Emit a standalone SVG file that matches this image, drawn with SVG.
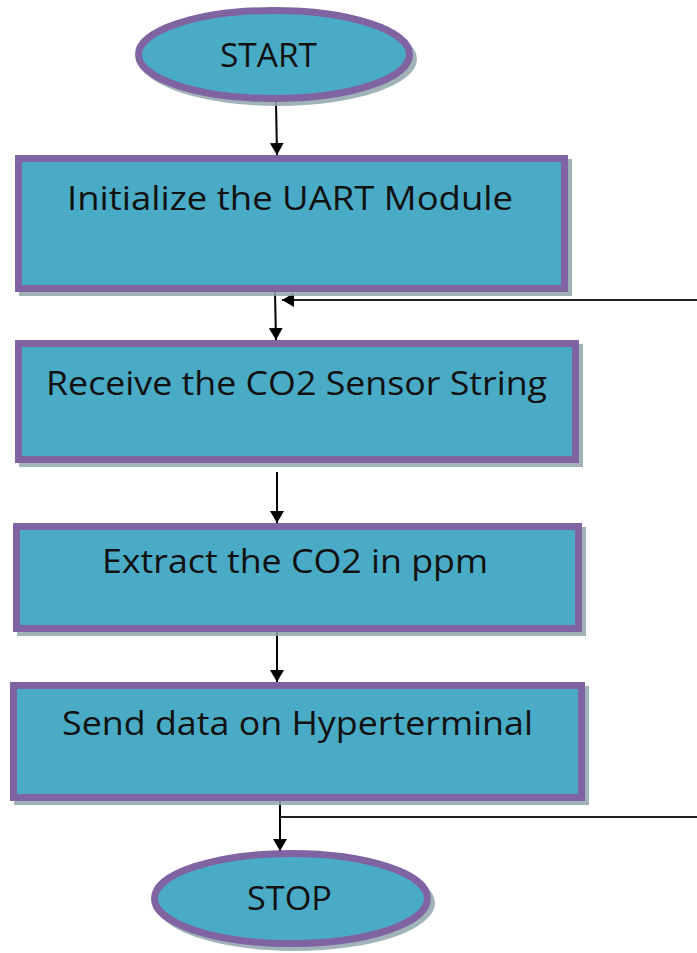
<svg xmlns="http://www.w3.org/2000/svg" width="697" height="953" viewBox="0 0 697 953">
  <style>
    .shape { fill: #4aabc6; stroke: #8064a2; stroke-width: 7; }
    .shadow { fill: #8ea6ad; opacity: 0.85; }
    .label { font-family: "Open Sans", "Noto Sans", sans-serif; font-size: 32px; fill: #111111; }
    .wire { stroke: #000000; stroke-width: 2; fill: none; }
    .wire-thin { stroke: #222222; stroke-width: 2; fill: none; }
  </style>
  <defs>
    <marker id="arrow" viewBox="0 0 12 14" refX="12" refY="7" markerWidth="12" markerHeight="14" markerUnits="userSpaceOnUse" orient="auto">
      <path d="M0,0 L12,7 L0,14 Z" fill="#000000"/>
    </marker>
  </defs>

  <rect width="697" height="953" fill="#ffffff"/>

  <!-- connectors -->
  <g id="connectors">
    <line class="wire" x1="276" y1="102" x2="277" y2="155" marker-end="url(#arrow)"/>
    <line class="wire" x1="275" y1="292" x2="276" y2="340" marker-end="url(#arrow)"/>
    <line class="wire-thin" x1="697" y1="300" x2="282" y2="300" marker-end="url(#arrow)"/>
    <line class="wire" x1="277" y1="472" x2="277" y2="523" marker-end="url(#arrow)"/>
    <line class="wire" x1="277" y1="630" x2="277" y2="682" marker-end="url(#arrow)"/>
    <line class="wire" x1="280" y1="801" x2="280" y2="851" marker-end="url(#arrow)"/>
    <line class="wire-thin" x1="280" y1="817" x2="697" y2="817"/>
  </g>

  <!-- start terminal -->
  <g id="start">
    <ellipse class="shadow" cx="278" cy="59" rx="139" ry="47"/>
    <ellipse class="shape" cx="274" cy="54.5" rx="135.5" ry="44"/>
    <text class="label" x="220" y="67" textLength="97" lengthAdjust="spacingAndGlyphs">START</text>
  </g>

  <!-- step 1 -->
  <g id="init-uart">
    <rect class="shadow" x="19" y="159" width="553" height="137"/>
    <rect class="shape" x="18.5" y="158.5" width="546" height="130"/>
    <text class="label" x="67" y="210" textLength="446" lengthAdjust="spacingAndGlyphs">Initialize the UART Module</text>
  </g>

  <!-- step 2 -->
  <g id="receive-string">
    <rect class="shadow" x="19" y="344" width="564" height="123"/>
    <rect class="shape" x="18.5" y="343.5" width="557" height="116"/>
    <text class="label" x="46" y="395" textLength="501" lengthAdjust="spacingAndGlyphs">Receive the CO2 Sensor String</text>
  </g>

  <!-- step 3 -->
  <g id="extract-ppm">
    <rect class="shadow" x="17" y="527" width="569" height="109"/>
    <rect class="shape" x="16.5" y="526.5" width="562" height="102"/>
    <text class="label" x="102" y="573" textLength="386" lengthAdjust="spacingAndGlyphs">Extract the CO2 in ppm</text>
  </g>

  <!-- step 4 -->
  <g id="send-data">
    <rect class="shadow" x="14" y="686" width="575" height="119"/>
    <rect class="shape" x="13.5" y="685.5" width="568" height="112"/>
    <text class="label" x="62" y="735" textLength="471" lengthAdjust="spacingAndGlyphs">Send data on Hyperterminal</text>
  </g>

  <!-- stop terminal -->
  <g id="stop">
    <ellipse class="shadow" cx="295" cy="903" rx="140" ry="48"/>
    <ellipse class="shape" cx="291" cy="898.5" rx="136.5" ry="45"/>
    <text class="label" x="247" y="910" textLength="85" lengthAdjust="spacingAndGlyphs">STOP</text>
  </g>
</svg>
